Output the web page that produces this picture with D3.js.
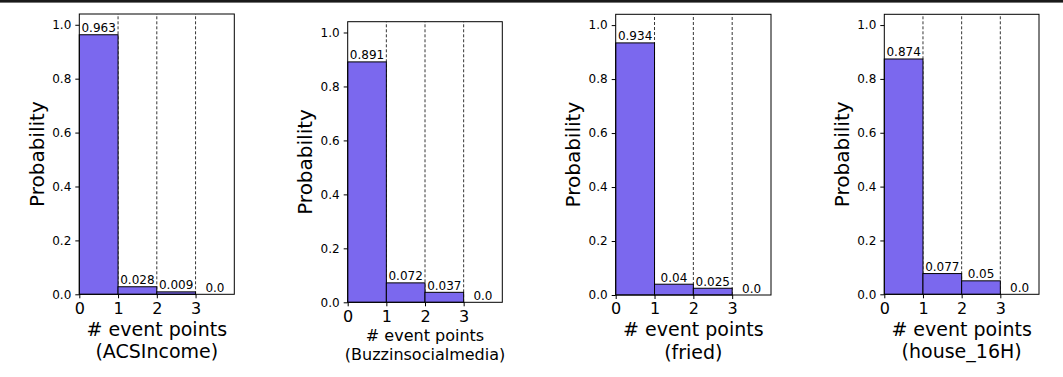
<!DOCTYPE html>
<html>
<head>
<meta charset="utf-8">
<script src="https://cdn.jsdelivr.net/npm/d3@7"></script>
<style>
  html, body { margin: 0; padding: 0; background: #fff; }
  svg { display: block; font-family: "DejaVu Sans", sans-serif; }
</style>
</head>
<body>
<div id="chart"></div>
<script>
// 数据
const datasets = ["ACSIncome", "Buzzinsocialmedia", "fried", "house_16H"];
const eventBins = [0, 1, 2, 3];
const probACSIncome = [0.963, 0.028, 0.009, 0.0];
const probBuzz = [0.891, 0.072, 0.037, 0.0];
const probFried = [0.934, 0.04, 0.025, 0.0];
const probHouse = [0.874, 0.077, 0.05, 0.0];
const xTicks = [0, 1, 2, 3];
const yTicks = [0, 0.2, 0.4, 0.6, 0.8, 1.0];
const dashedAt = [1, 2, 3];
const allProbs = [probACSIncome, probBuzz, probFried, probHouse];

// 版面
const W = 1063, H = 377;
const panels = [
  { l: 79.3, r: 234.3, t: 14, b: 294.3, fs: 19, lh: 22.5, off: 41.2 },
  { l: 347.7, r: 502.3, t: 21.7, b: 302.3, fs: 16, lh: 19.2, off: 38.2 },
  { l: 615.7, r: 771, t: 14.3, b: 295, fs: 19, lh: 22.5, off: 41.2 },
  { l: 884.3, r: 1039, t: 14.3, b: 294.3, fs: 19, lh: 22.5, off: 41.2 }
];
const barColor = "#7b68ee";
const fmtVal = (v) => (v === 0 ? "0.0" : String(v));

const svg = d3.select("#chart").append("svg")
  .attr("width", W).attr("height", H);

// 顶部粗线
svg.append("rect").attr("x", 0).attr("y", 0).attr("width", W).attr("height", 2.6)
  .attr("fill", "#1a1a1a");

datasets.forEach((name, i) => {
  const p = panels[i];
  const probs = allProbs[i];
  const x = d3.scaleLinear().domain([0, 4]).range([p.l, p.r]);
  const y = d3.scaleLinear().domain([0, 1.04]).range([p.b, p.t]);
  const g = svg.append("g");

  // 虚线
  g.selectAll("line.dash").data(dashedAt).join("line")
    .attr("x1", (d) => x(d)).attr("x2", (d) => x(d))
    .attr("y1", p.b).attr("y2", p.t)
    .attr("stroke", "#000").attr("stroke-width", 0.8)
    .attr("stroke-dasharray", "3,2");

  // 柱
  g.selectAll("rect.bar").data(eventBins).join("rect")
    .attr("x", (d) => x(d)).attr("width", (d) => x(d + 1) - x(d))
    .attr("y", (d, j) => y(probs[j]))
    .attr("height", (d, j) => p.b - y(probs[j]))
    .attr("fill", barColor).attr("stroke", "#000").attr("stroke-width", 1);

  // 数值标签
  g.selectAll("text.val").data(eventBins).join("text")
    .attr("x", (d) => x(d + 0.5))
    .attr("y", (d, j) => y(probs[j]) - 2.5)
    .attr("text-anchor", "middle")
    .attr("font-size", 12)
    .attr("fill", "#000")
    .text((d, j) => fmtVal(probs[j]));

  // 边框
  g.append("rect").attr("x", p.l).attr("y", p.t)
    .attr("width", p.r - p.l).attr("height", p.b - p.t)
    .attr("fill", "none").attr("stroke", "#000").attr("stroke-width", 1);

  // 坐标轴
  const ya = g.append("g").attr("transform", `translate(${p.l},0)`)
    .call(d3.axisLeft(y).tickValues(yTicks).tickFormat(d3.format(".1f"))
      .tickSize(4).tickPadding(4).tickSizeOuter(0));
  ya.select(".domain").remove();
  ya.selectAll("text").attr("font-size", 12).attr("font-family", "DejaVu Sans").attr("fill", "#000");

  const xa = g.append("g").attr("transform", `translate(0,${p.b})`)
    .call(d3.axisBottom(x).tickValues(xTicks).tickFormat(d3.format("d"))
      .tickSize(4).tickPadding(3).tickSizeOuter(0));
  xa.select(".domain").remove();
  xa.selectAll("text").attr("font-size", 16).attr("font-family", "DejaVu Sans")
    .attr("fill", "#000").attr("dy", null).attr("y", 19.3);

  // Y 轴标题
  const cy = (p.t + p.b) / 2;
  g.append("text")
    .attr("transform", `translate(${p.l - 41 + 5.2},${cy}) rotate(-90)`)
    .attr("text-anchor", "middle")
    .attr("font-size", 20)
    .text("Probability");

  // X 轴标题
  const cx = (p.l + p.r) / 2;
  g.append("text").attr("x", cx).attr("y", p.b + p.off)
    .attr("text-anchor", "middle").attr("font-size", p.fs)
    .text("# event points");
  g.append("text").attr("x", cx).attr("y", p.b + p.off + p.lh)
    .attr("text-anchor", "middle").attr("font-size", p.fs)
    .text(`(${name})`);
});
</script>
</body>
</html>
